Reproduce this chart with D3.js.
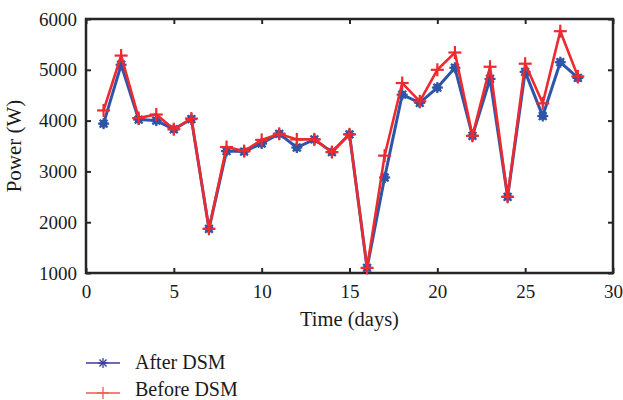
<!DOCTYPE html>
<html><head><meta charset="utf-8">
<script src="https://cdn.jsdelivr.net/npm/d3@7"></script>
<style>body{margin:0;background:#fff}svg{display:block}text{font-family:"Liberation Serif","Times New Roman",serif;fill:#1a1a1a}</style>
</head><body><svg id="c" width="623" height="400"></svg>
<script>
const days = [1,2,3,4,5,6,7,8,9,10,11,12,13,14,15,16,17,18,19,20,21,22,23,24,25,26,27,28];
const afterDSM = [3940,5100,4020,4000,3830,4030,1870,3400,3390,3550,3740,3470,3630,3380,3730,1100,2880,4510,4350,4650,5040,3700,4820,2500,4960,4090,5150,4840];
const beforeDSM = [4200,5280,4050,4120,3830,4040,1870,3480,3400,3620,3740,3630,3630,3380,3730,1100,3310,4740,4380,5000,5340,3700,5060,2500,5120,4340,5760,4870];
const xTicks = [0,5,10,15,20,25,30];
const yTicks = [1000,2000,3000,4000,5000,6000];
const seriesNames = ["After DSM","Before DSM"];

const svg = d3.select("#c");
const L=86,R=613,T=19,B=273;
const x = d3.scaleLinear().domain([0,30]).range([L,R]);
const y = d3.scaleLinear().domain([1000,6000]).range([B,T]);
const axisColor="#262626";

const gx = svg.append("g").attr("transform",`translate(0,${B})`)
  .call(d3.axisBottom(x).tickValues(xTicks).tickSize(-5).tickPadding(12).tickFormat(d3.format("d")));
const gxt = svg.append("g").attr("transform",`translate(0,${T})`)
  .call(d3.axisTop(x).tickValues(xTicks).tickSize(-5).tickFormat(""));
const gy = svg.append("g").attr("transform",`translate(${L},0)`)
  .call(d3.axisLeft(y).tickValues(yTicks).tickSize(-5).tickPadding(9).tickFormat(d3.format("d")));
const gyr = svg.append("g").attr("transform",`translate(${R},0)`)
  .call(d3.axisRight(y).tickValues(yTicks).tickSize(-5).tickFormat(""));
[gx,gxt,gy,gyr].forEach(g=>{
  g.select(".domain").remove();
  g.selectAll(".tick line").attr("stroke",axisColor).attr("stroke-width",2);
  g.selectAll(".tick text").style("font-size","19px").attr("fill","#1a1a1a");
});
svg.append("rect").attr("x",L).attr("y",T).attr("width",R-L).attr("height",B-T)
  .attr("fill","none").attr("stroke",axisColor).attr("stroke-width",2.5);

svg.append("text").attr("x",(L+R)/2).attr("y",326).attr("text-anchor","middle")
  .style("font-size","20.5px").text("Time (days)");
svg.append("text").attr("transform",`translate(21,146) rotate(-90)`)
  .attr("text-anchor","middle").style("font-size","21px").text("Power (W)");

const blue="#2f55a8", red="#ec2a30";
const line = d3.line().x((d,i)=>x(days[i])).y(d=>y(d));

function star(g, cx, cy, r, color, w){
  for(let k=0;k<4;k++){
    const a=k*Math.PI/4;
    g.append("line").attr("x1",cx-r*Math.cos(a)).attr("y1",cy-r*Math.sin(a))
      .attr("x2",cx+r*Math.cos(a)).attr("y2",cy+r*Math.sin(a))
      .attr("stroke",color).attr("stroke-width",w);
  }
}
function plus(g, cx, cy, r, color, w){
  g.append("line").attr("x1",cx-r).attr("y1",cy).attr("x2",cx+r).attr("y2",cy).attr("stroke",color).attr("stroke-width",w);
  g.append("line").attr("x1",cx).attr("y1",cy-r).attr("x2",cx).attr("y2",cy+r).attr("stroke",color).attr("stroke-width",w);
}

const gb = svg.append("g");
gb.append("path").datum(afterDSM).attr("d",line).attr("fill","none").attr("stroke",blue).attr("stroke-width",3);
afterDSM.forEach((v,i)=>{ gb.append("circle").attr("cx",x(days[i])).attr("cy",y(v)).attr("r",4).attr("fill",blue); star(gb,x(days[i]),y(v),5.5,blue,2.2); });

const gr = svg.append("g");
gr.append("path").datum(beforeDSM).attr("d",line).attr("fill","none").attr("stroke",red).attr("stroke-width",2.6);
beforeDSM.forEach((v,i)=>plus(gr,x(days[i]),y(v),6.5,red,2.2));

const lg = svg.append("g");
lg.append("line").attr("x1",86).attr("x2",120).attr("y1",363).attr("y2",363).attr("stroke","#3c3c9c").attr("stroke-width",1.5);
star(lg,103,363,5,"#3c3c9c",1.3);
lg.append("text").attr("x",135).attr("y",369).style("font-size","20px").text(seriesNames[0]);
lg.append("line").attr("x1",86).attr("x2",120).attr("y1",393).attr("y2",393).attr("stroke","#f05a48").attr("stroke-width",1.5);
plus(lg,103,393,6,"#f05a48",1.3);
lg.append("text").attr("x",135).attr("y",396).style("font-size","20px").text(seriesNames[1]);
</script></body></html>
